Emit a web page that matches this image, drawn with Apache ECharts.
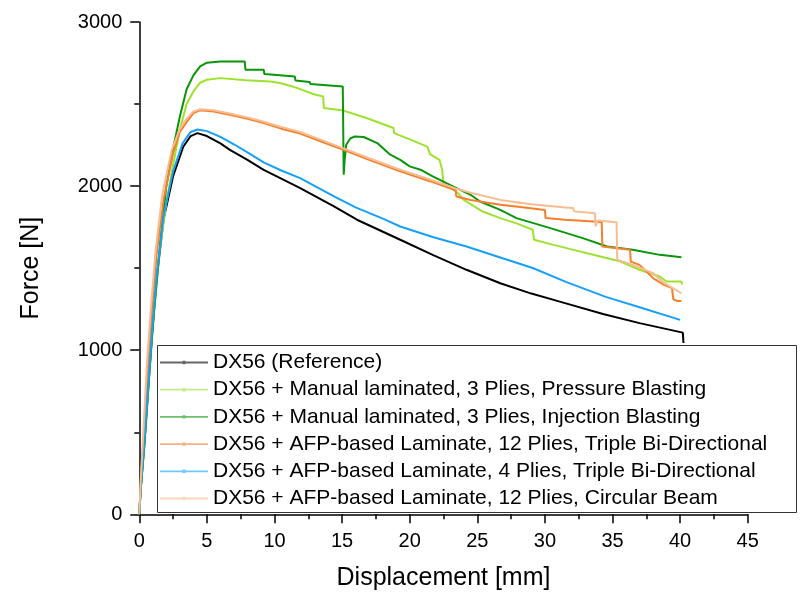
<!DOCTYPE html>
<html>
<head>
<meta charset="utf-8">
<script src="https://cdn.jsdelivr.net/npm/echarts@6/dist/echarts.min.js"></script>
<style>html,body{margin:0;padding:0;background:#fff}#c{width:800px;height:592px}</style>
</head>
<body>
<div id="c"></div>
<script>
const seriesNames = [
  "DX56 (Reference)",
  "DX56 + Manual laminated, 3 Plies, Pressure Blasting",
  "DX56 + Manual laminated, 3 Plies, Injection Blasting",
  "DX56 + AFP-based Laminate, 12 Plies, Triple Bi-Directional",
  "DX56 + AFP-based Laminate, 4 Plies, Triple Bi-Directional",
  "DX56 + AFP-based Laminate, 12 Plies, Circular Beam"
];
const xTicks = [0,5,10,15,20,25,30,35,40,45];
const yTicks = [0,1000,2000,3000];

const dx56Ref = [[0,0],[0.1,150],[0.35,400],[0.65,750],[0.95,1100],[1.3,1450],[1.8,1800],[2.5,2060],[3.25,2240],[3.8,2305],[4.3,2323],[5,2305],[6,2260],[6.7,2221],[8,2160],[9.2,2099],[10.5,2045],[11.9,1988],[14.4,1876],[16.1,1795],[19.3,1673],[21.7,1581],[24.2,1490],[26.7,1408],[29,1345],[31.1,1296],[34.3,1221],[37,1165],[40.2,1107],[40.25,1044]];

const pressureBlasting = [[0,0],[0.1,150],[0.4,450],[0.7,800],[1.0,1150],[1.5,1600],[2.0,1900],[2.5,2130],[3.0,2343],[3.5,2500],[4.0,2577],[4.5,2630],[5.0,2648],[6.0,2658],[7.9,2645],[9.7,2638],[10.4,2628],[11.0,2615],[11.6,2600],[12.1,2585],[12.9,2560],[13.6,2546],[13.65,2476],[15.1,2460],[16.8,2415],[18.8,2354],[18.85,2323],[20,2285],[21.3,2241],[21.5,2195],[22.2,2160],[22.4,2100],[22.5,2010],[23.0,1990],[23.6,1955],[24.0,1916],[25.4,1845],[26.7,1805],[28,1770],[29.1,1734],[29.2,1673],[30.5,1645],[31.6,1622],[34.1,1571],[35.6,1540],[37.0,1490],[38.5,1449],[39.0,1418],[40.1,1418],[40.15,1400]];

const injectionBlasting = [[0,0],[0.1,150],[0.4,450],[0.7,820],[1.1,1250],[1.6,1700],[2.0,2000],[2.5,2230],[3.0,2424],[3.5,2590],[4.0,2675],[4.5,2730],[5.0,2752],[6,2760],[7.8,2760],[7.85,2709],[9.2,2709],[9.25,2683],[11.5,2668],[11.55,2644],[12.6,2635],[12.65,2622],[15.05,2607],[15.12,2069],[15.18,2150],[15.3,2250],[15.6,2290],[15.9,2302],[16.6,2299],[17.6,2262],[18.5,2195],[19.3,2160],[20.0,2120],[20.8,2100],[21.7,2059],[23.2,1998],[24.5,1947],[25.2,1906],[26.7,1855],[27.9,1805],[30.4,1744],[32.8,1683],[34.6,1632],[36.5,1612],[38.5,1581],[40.1,1567]];

const afp12Triple = [[0,0],[0.1,180],[0.3,450],[0.6,850],[0.9,1200],[1.3,1600],[1.8,1920],[2.5,2200],[3.0,2330],[3.5,2390],[4.0,2445],[4.5,2462],[5.5,2455],[6.7,2435],[8,2410],[9.2,2384],[10.5,2350],[11.9,2320],[13.5,2270],[15.1,2221],[17,2160],[19.3,2090],[21.5,2030],[23.4,1975],[23.45,1937],[24.5,1915],[26.7,1886],[28.5,1870],[30.0,1855],[30.05,1805],[31.5,1795],[33.6,1784],[34.2,1780],[34.25,1632],[35.5,1620],[36.3,1612],[36.35,1540],[37.0,1520],[38.0,1439],[38.8,1398],[39.4,1378],[39.5,1310],[39.8,1300],[40.1,1300]];

const afp4Triple = [[0,0],[0.1,150],[0.35,420],[0.65,770],[0.95,1120],[1.3,1470],[1.8,1820],[2.5,2090],[3.2,2260],[3.8,2330],[4.3,2345],[5,2335],[6,2300],[7,2255],[8,2205],[9.2,2145],[10.5,2095],[11.9,2049],[14.4,1937],[16,1870],[18.1,1799],[19.3,1754],[21.7,1690],[24.2,1632],[26.7,1565],[29.1,1501],[31.6,1415],[34.5,1325],[37,1262],[40,1185]];

const afp12Circular = [[0,0],[0.1,200],[0.3,500],[0.55,900],[0.85,1250],[1.2,1600],[1.7,1950],[2.4,2220],[3.0,2350],[3.5,2410],[4.0,2455],[4.5,2468],[5.5,2462],[6.7,2442],[8,2418],[9.2,2392],[10.5,2360],[11.9,2330],[13.5,2280],[15.1,2230],[17,2170],[19.3,2100],[21.5,2040],[23.4,1985],[24.5,1960],[26.7,1916],[29,1890],[31.5,1870],[32.1,1866],[32.15,1846],[33.7,1835],[33.75,1755],[33.9,1790],[35.3,1780],[35.35,1551],[36.5,1520],[38.0,1470],[38.8,1410],[40.1,1347]];

const seriesData = [dx56Ref, pressureBlasting, injectionBlasting, afp12Triple, afp4Triple, afp12Circular];
const colors = ['#000000','#9de22e','#0a960a','#f47f2c','#18a0f8','#f8bc90'];

const FONT = '"Liberation Sans", Arial, sans-serif';
const chart = echarts.init(document.getElementById('c'), null, {renderer:'canvas'});
const axisCommon = {
  type:'value',
  axisLine:{show:true, onZero:false, lineStyle:{color:'#000', width:1.5}},
  axisTick:{show:true, length:9, lineStyle:{color:'#000', width:1.5}},
  minorTick:{show:true, splitNumber:2, length:5, lineStyle:{color:'#000', width:1.5}},
  splitLine:{show:false},
  minorSplitLine:{show:false},
  axisLabel:{color:'#000', fontSize:20, fontFamily:FONT, margin:17, formatter:v=>String(v)},
  nameLocation:'middle',
  nameTextStyle:{color:'#000', fontSize:25, fontFamily:FONT}
};
const legendIcon = 'path://M0,1.1 L48,1.1 L48,2.9 L0,2.9 Z M22.5,0.3 L25.5,0.3 L25.5,3.7 L22.5,3.7 Z M0,0 L0.01,0 L0.01,0.01 Z M0,4 L0.01,4 L0.01,3.99 Z';
chart.setOption({
  animation:false,
  backgroundColor:'#fff',
  grid:{left:139.3, right:52.3, top:22, bottom:77.7, containLabel:false, outerBoundsMode:'none'},
  xAxis:Object.assign({}, axisCommon, {
    min:xTicks[0], max:xTicks[xTicks.length-1], interval:xTicks[1]-xTicks[0],
    name:'Displacement [mm]', nameGap:51
  }),
  yAxis:Object.assign({}, axisCommon, {
    min:yTicks[0], max:yTicks[yTicks.length-1], interval:yTicks[1]-yTicks[0],
    name:'Force [N]', nameGap:96
  }),
  graphic:[{
    type:'rect', z:3, silent:true,
    shape:{x:157.5, y:345.5, width:639, height:167},
    style:{fill:'#fff', stroke:'#333', lineWidth:1}
  }],
  legend:{
    orient:'vertical', left:157, top:345, z:5,
    padding:[7,3,7,3], itemGap:6.2, itemWidth:48, itemHeight:4,
    icon:legendIcon,
    textStyle:{color:'#000', fontSize:21, fontFamily:FONT},
    itemStyle:{opacity:0.6},
    data:seriesNames
  },
  series: seriesNames.map((n,i)=>({
    name:n, type:'line', data:seriesData[i],
    showSymbol:false, symbol:'rect', symbolSize:3,
    lineStyle:{width:2, color:colors[i]}, itemStyle:{color:colors[i]},
    emphasis:{disabled:true}
  }))
});
</script>
</body>
</html>
